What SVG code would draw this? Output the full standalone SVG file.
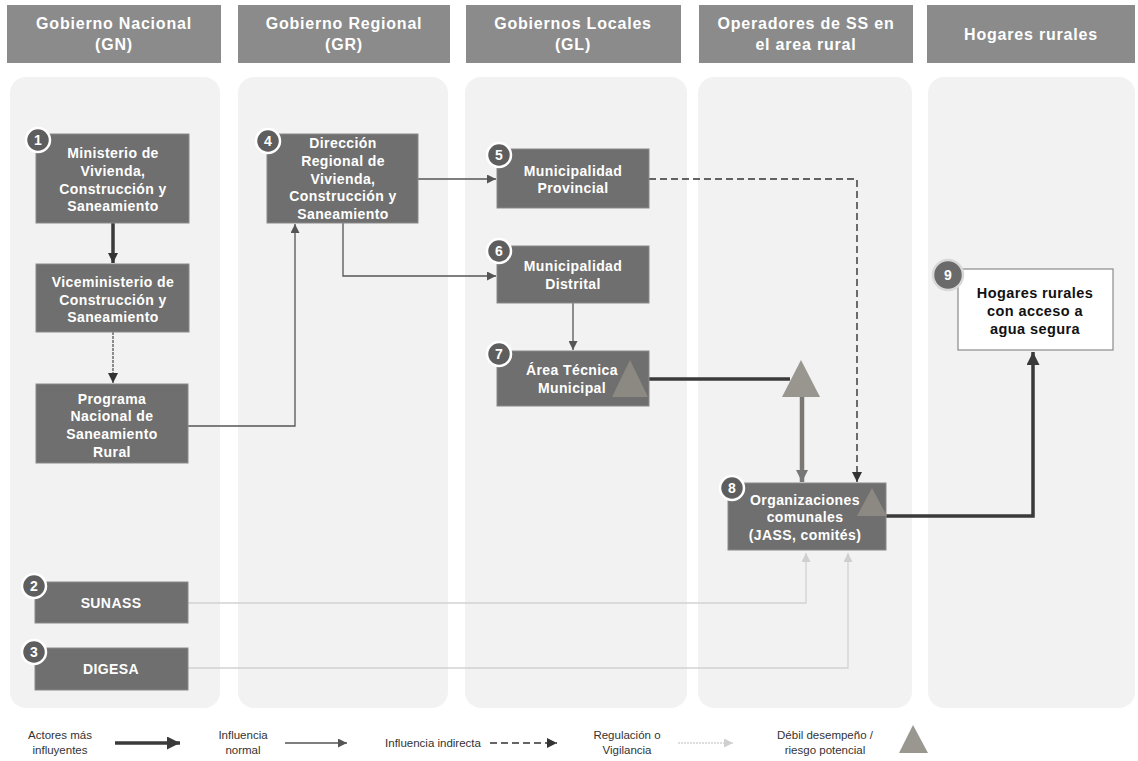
<svg xmlns="http://www.w3.org/2000/svg" width="1138" height="761" viewBox="0 0 1138 761">
<defs>
<style>
.hdr{fill:#8b8b8b}
.hdrt{font-family:"Liberation Sans",Arial,sans-serif;font-weight:bold;font-size:16px;fill:#ffffff;text-anchor:middle;letter-spacing:0.8px}
.panel{fill:#f2f2f2}
.box{fill:#6f6f6f;stroke:#8a8a8a;stroke-width:1}
.bt{font-family:"Liberation Sans",Arial,sans-serif;font-weight:bold;font-size:14px;fill:#ffffff;text-anchor:middle;letter-spacing:0.4px}
.badge{fill:#5e5e5e;stroke:#ffffff;stroke-width:2.5}
.bn{font-family:"Liberation Sans",Arial,sans-serif;font-weight:bold;font-size:14px;fill:#ffffff;text-anchor:middle}
.tri{fill:#8f8c85;opacity:0.9}
.lg{font-family:"Liberation Sans",Arial,sans-serif;font-size:11.5px;fill:#333333;text-anchor:middle}
.thick{fill:none;stroke:#3a3a3a;stroke-width:3.5}
.normal{fill:none;stroke:#555555;stroke-width:1.3}
.dashed{fill:none;stroke:#333333;stroke-width:1.4;stroke-dasharray:7 4}
.reg{fill:none;stroke:#d2d2d2;stroke-width:1.3}
</style>
<marker id="aDark" viewBox="0 0 10 10" refX="10" refY="5" markerWidth="10" markerHeight="10" markerUnits="userSpaceOnUse" orient="auto"><path d="M0,0 L10,5 L0,10 z" fill="#333333"/></marker>
<marker id="aNorm" viewBox="0 0 10 10" refX="10" refY="5" markerWidth="9" markerHeight="9" markerUnits="userSpaceOnUse" orient="auto"><path d="M0,0 L10,5 L0,10 z" fill="#555555"/></marker>
<marker id="aThick" viewBox="0 0 10 10" refX="10" refY="5" markerWidth="13" markerHeight="13" markerUnits="userSpaceOnUse" orient="auto"><path d="M0,0 L10,5 L0,10 z" fill="#3a3a3a"/></marker>
<marker id="aGrayThick" viewBox="0 0 10 10" refX="10" refY="5" markerWidth="12" markerHeight="12" markerUnits="userSpaceOnUse" orient="auto"><path d="M0,0 L10,5 L0,10 z" fill="#777777"/></marker>
<marker id="aLight" viewBox="0 0 10 10" refX="10" refY="5" markerWidth="9" markerHeight="9" markerUnits="userSpaceOnUse" orient="auto"><path d="M0,0 L10,5 L0,10 z" fill="#cfcfcf"/></marker>
</defs>
<rect x="0" y="0" width="1138" height="761" fill="#ffffff"/>

<g id="headers">
<rect class="hdr" x="7" y="5" width="214" height="58"/>
<text class="hdrt" x="114" y="29">Gobierno Nacional</text>
<text class="hdrt" x="114" y="50">(GN)</text>
<rect class="hdr" x="238" y="5" width="212" height="58"/>
<text class="hdrt" x="344" y="29">Gobierno Regional</text>
<text class="hdrt" x="344" y="50">(GR)</text>
<rect class="hdr" x="466" y="5" width="215" height="58"/>
<text class="hdrt" x="573" y="29">Gobiernos Locales</text>
<text class="hdrt" x="573" y="50">(GL)</text>
<rect class="hdr" x="699" y="5" width="214" height="58"/>
<text class="hdrt" x="806" y="29">Operadores de SS en</text>
<text class="hdrt" x="806" y="50">el area rural</text>
<rect class="hdr" x="927" y="5" width="208" height="58"/>
<text class="hdrt" x="1031" y="40">Hogares rurales</text>
</g>

<g id="panels">
<rect class="panel" x="10" y="77" width="210" height="631" rx="16"/>
<rect class="panel" x="238" y="77" width="210" height="631" rx="16"/>
<rect class="panel" x="465" y="77" width="222" height="631" rx="16"/>
<rect class="panel" x="698" y="77" width="214" height="631" rx="16"/>
<rect class="panel" x="928" y="77" width="207" height="631" rx="16"/>
</g>

<g id="connectors">
<path class="thick" d="M113,223 L113,263" stroke-width="2.5" marker-end="url(#aDark)"/>
<path class="normal" d="M113,332 L113,383" stroke="#444444" stroke-dasharray="3 1" marker-end="url(#aDark)"/>
<path class="normal" d="M188,426 L295,426 L295,224" marker-end="url(#aNorm)"/>
<path class="normal" d="M418,179 L496,179" marker-end="url(#aNorm)"/>
<path class="normal" d="M343,223 L343,276 L496,276" marker-end="url(#aNorm)"/>
<path class="normal" d="M573,303 L573,350" marker-end="url(#aNorm)"/>
<path class="dashed" d="M649,179 L857,179 L857,482" marker-end="url(#aDark)"/>
<path class="thick" d="M649,379 L790,379"/>
<path d="M802,397 L802,482" fill="none" stroke="#7a7774" stroke-width="4.5" marker-end="url(#aGrayThick)"/>
<path class="thick" d="M886,516 L1033,516 L1033,352" marker-end="url(#aThick)"/>
<path class="reg" d="M188,603 L806,603 L806,553" marker-end="url(#aLight)"/>
<path class="reg" d="M188,668 L848,668 L848,553" marker-end="url(#aLight)"/>
</g>

<g id="n1">
<rect class="box" x="36" y="134" width="153" height="89"/>
<text class="bt" x="113" y="158">Ministerio de</text>
<text class="bt" x="113" y="176">Vivienda,</text>
<text class="bt" x="113" y="194">Construcción y</text>
<text class="bt" x="113" y="211">Saneamiento</text>
<circle class="badge" cx="38" cy="140" r="12"/>
<text class="bn" x="38" y="145">1</text>
</g>

<g id="n1b">
<rect class="box" x="36" y="264" width="153" height="68"/>
<text class="bt" x="113" y="287">Viceministerio de</text>
<text class="bt" x="113" y="305">Construcción y</text>
<text class="bt" x="113" y="322">Saneamiento</text>
</g>

<g id="n1c">
<rect class="box" x="36" y="384" width="152" height="79"/>
<text class="bt" x="112" y="404">Programa</text>
<text class="bt" x="112" y="421">Nacional de</text>
<text class="bt" x="112" y="439">Saneamiento</text>
<text class="bt" x="112" y="457">Rural</text>
</g>

<g id="n2">
<rect class="box" x="35" y="582" width="153" height="41"/>
<text class="bt" x="111" y="608">SUNASS</text>
<circle class="badge" cx="34" cy="586" r="12"/>
<text class="bn" x="34" y="591">2</text>
</g>

<g id="n3">
<rect class="box" x="35" y="648" width="153" height="42"/>
<text class="bt" x="111" y="674">DIGESA</text>
<circle class="badge" cx="34" cy="652" r="12"/>
<text class="bn" x="34" y="657">3</text>
</g>

<g id="n4">
<rect class="box" x="267" y="134" width="151" height="89"/>
<text class="bt" x="343" y="148">Dirección</text>
<text class="bt" x="343" y="166">Regional de</text>
<text class="bt" x="343" y="184">Vivienda,</text>
<text class="bt" x="343" y="201">Construcción y</text>
<text class="bt" x="343" y="219">Saneamiento</text>
<circle class="badge" cx="268" cy="141" r="12"/>
<text class="bn" x="268" y="146">4</text>
</g>

<g id="n5">
<rect class="box" x="497" y="149" width="152" height="59"/>
<text class="bt" x="573" y="176">Municipalidad</text>
<text class="bt" x="573" y="193">Provincial</text>
<circle class="badge" cx="499" cy="155" r="12"/>
<text class="bn" x="499" y="160">5</text>
</g>

<g id="n6">
<rect class="box" x="497" y="246" width="152" height="57"/>
<text class="bt" x="573" y="271">Municipalidad</text>
<text class="bt" x="573" y="289">Distrital</text>
<circle class="badge" cx="499" cy="251" r="12"/>
<text class="bn" x="499" y="256">6</text>
</g>

<g id="n7">
<rect class="box" x="497" y="351" width="152" height="55"/>
<text class="bt" x="572" y="375">Área Técnica</text>
<text class="bt" x="572" y="393">Municipal</text>
<polygon class="tri" points="630,360 612,397 648,397"/>
<circle class="badge" cx="499" cy="354" r="12"/>
<text class="bn" x="499" y="359">7</text>
</g>

<g id="risk">
<polygon class="tri" points="801,360 782,397 820,397"/>
</g>

<g id="n8">
<rect class="box" x="728" y="483" width="158" height="67"/>
<text class="bt" x="805" y="505">Organizaciones</text>
<text class="bt" x="805" y="522">comunales</text>
<text class="bt" x="805" y="540">(JASS, comités)</text>
<polygon class="tri" points="872,488 857,516 887,516"/>
<circle class="badge" cx="732" cy="488" r="12"/>
<text class="bn" x="732" y="493">8</text>
</g>

<g id="n9">
<rect x="958" y="269" width="155" height="81" fill="#ffffff" stroke="#8a8a8a" stroke-width="1.2"/>
<text class="bt" x="1035" y="298" fill="#111111" style="fill:#111111;font-size:14.5px">Hogares rurales</text>
<text class="bt" x="1035" y="316" style="fill:#111111;font-size:14.5px">con acceso a</text>
<text class="bt" x="1035" y="334" style="fill:#111111;font-size:14.5px">agua segura</text>
<circle cx="948" cy="275" r="15" fill="#6a6a6a" stroke="#d8d8d8" stroke-width="2.5"/>
<text class="bn" x="948" y="280">9</text>
</g>

<g id="legend">
<text class="lg" x="60" y="739">Actores más</text>
<text class="lg" x="60" y="754">influyentes</text>
<path class="thick" d="M115,743 L180,743" marker-end="url(#aThick)"/>
<text class="lg" x="243" y="739">Influencia</text>
<text class="lg" x="243" y="754">normal</text>
<path class="normal" d="M285,743 L347,743" marker-end="url(#aNorm)"/>
<text class="lg" x="433" y="747">Influencia indirecta</text>
<path class="dashed" d="M490,743 L557,743" marker-end="url(#aDark)"/>
<text class="lg" x="627" y="739">Regulación o</text>
<text class="lg" x="627" y="754">Vigilancia</text>
<path class="reg" d="M678,743 L733,743" stroke-dasharray="2 1" marker-end="url(#aLight)"/>
<text class="lg" x="825" y="739">Débil desempeño /</text>
<text class="lg" x="825" y="754">riesgo potencial</text>
<polygon class="tri" points="913,725 899,753 928,753"/>
</g>
</svg>
